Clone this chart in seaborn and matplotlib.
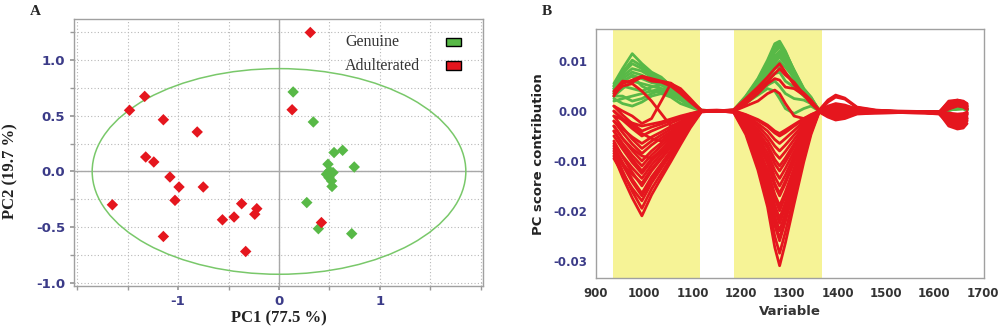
import matplotlib
matplotlib.use("Agg")
import matplotlib.pyplot as plt
from matplotlib.patches import Ellipse, Rectangle
from matplotlib.ticker import MultipleLocator, FixedLocator, FormatStrFormatter
import seaborn as sns
import pandas as pd

# ---------------- Panel A data (PCA scores) ----------------
genuine_pc1 = [0.14, 0.34, 0.545, 0.63, 0.745, 0.485, 0.50, 0.47, 0.535, 0.495, 0.52, 0.525, 0.275, 0.39, 0.72]
genuine_pc2 = [0.715, 0.445, 0.17, 0.19, 0.04, 0.065, 0.005, -0.025, -0.01, -0.055, -0.085, -0.135, -0.28, -0.515, -0.56]
adult_pc1 = [0.31, -1.33, -1.48, -1.145, -0.81, 0.13, -1.32, -1.24, -1.08, -0.99, -0.75, -1.03, -1.65,
             -0.37, -0.22, -0.24, -0.445, -0.56, -1.145, -0.33, 0.42]
adult_pc2 = [1.25, 0.675, 0.55, 0.465, 0.355, 0.555, 0.13, 0.085, -0.05, -0.14, -0.14, -0.26, -0.30,
             -0.29, -0.335, -0.385, -0.41, -0.435, -0.585, -0.72, -0.46]
ellipse_pc1_halfwidth = 1.85
ellipse_pc2_halfheight = 0.925
groups = ["Genuine", "Adulterated"]
x_label_a = "PC1 (77.5 %)"
y_label_a = "PC2 (19.7 %)"

# ---------------- Panel B data (PC score contributions) ----------------
variable = [937, 955, 975, 995, 1015, 1035, 1055, 1075, 1095, 1118, 1150, 1185, 1210, 1235, 1255, 1270, 1280,
            1292, 1310, 1330, 1345, 1362, 1380, 1396, 1415, 1440, 1480, 1530, 1580, 1610, 1630, 1648, 1660, 1668]
highlight_bands = [(936, 1115), (1185, 1367)]

genuine_spectra = [
    [.0055, .0085, .0115, .0095, .0078, .0068, .005, .0035, .002, .0002, 0, .0002, .003, .0065, .0102, .0135, .014,
     .012, .008, .004, .0025, .0002, .0008, .0012, .001, .0005, 0, -.0002, -.0002, -.0003, .0005, .001, .0012, .0008],
    [.005, .0075, .0095, .0085, .007, .0065, .0052, .0038, .002, 0, 0, .0001, .0028, .006, .0095, .0125, .0132,
     .0115, .0082, .0045, .0028, 0, .0009, .0011, .0009, .0004, 0, -.0002, -.0002, -.0003, .0003, .0008, .0009, .0005],
    [.0045, .007, .0085, .008, .0068, .006, .0048, .0035, .0018, 0, 0, 0, .0025, .0055, .009, .0118, .0128,
     .011, .0078, .0042, .0026, .0001, .0008, .001, .0008, .0003, 0, -.0002, -.0002, -.0003, .0002, .0006, .0007, .0004],
    [.004, .0065, .0078, .0072, .0062, .0055, .0045, .0032, .0016, 0, 0, .0001, .0022, .005, .0082, .011, .012,
     .0105, .0075, .004, .0024, 0, .0007, .0009, .0007, .0003, 0, -.0001, -.0002, -.0002, .0004, .0007, .0008, .0004],
    [.0035, .005, .0045, .004, .0048, .0052, .0042, .003, .0015, 0, 0, 0, .002, .0045, .0075, .0098, .0108,
     .0095, .007, .0038, .0022, 0, .0006, .0008, .0006, .0002, 0, -.0001, -.0002, -.0002, .0003, .0006, .0007, .0003],
    [.003, .003, .002, .0025, .0035, .0042, .0036, .0025, .0012, 0, 0, 0, .0018, .004, .0065, .0085, .009,
     .0075, .0062, .0035, .002, 0, .0005, .0007, .0005, .0002, 0, -.0001, -.0002, -.0002, .0002, .0005, .0006, .0003],
    [.0025, .0015, .001, .0018, .003, .0035, .0028, .0015, .0008, 0, 0, 0, .0015, .0035, .0052, .006, .005,
     .0035, .0025, .0022, .0015, 0, .0005, .0006, .0005, .0002, 0, -.0001, -.0002, -.0002, .0002, .0004, .0005, .0002],
    [.0045, .006, .007, .005, .004, .0045, .004, .0028, .0015, 0, 0, 0, .0016, .0032, .0045, .004, .0025,
     .0005, -.0005, .0005, .001, 0, .0004, .0006, .0004, .0002, 0, -.0001, -.0001, -.0002, .0002, .0004, .0004, .0002],
    [.005, .0078, .0102, .009, .0074, .0066, .0051, .0036, .0019, .0001, 0, .0002, .0029, .0062, .0098, .013, .0136,
     .0118, .0081, .0044, .0027, .0001, .0008, .001, .0008, .0004, 0, -.0002, -.0002, -.0003, .0003, .0007, .0008, .0005],
    [.0038, .0058, .0072, .0065, .0057, .0053, .0043, .0031, .0016, 0, 0, 0, .0021, .0048, .0078, .0104, .0114,
     .010, .0072, .0039, .0023, 0, .0007, .0008, .0006, .0003, 0, -.0001, -.0002, -.0002, .0003, .0006, .0007, .0003],
    [.003, .0045, .006, .0055, .005, .0045, .0038, .0027, .0013, 0, 0, 0, .0019, .0043, .007, .0092, .010,
     .0088, .0066, .0036, .0021, 0, .0006, .0007, .0005, .0002, 0, -.0001, -.0002, -.0002, .0002, .0005, .0006, .0003],
    [.002, .0025, .003, .0035, .004, .0038, .0032, .0022, .001, 0, 0, 0, .0017, .0038, .006, .0075, .0078,
     .006, .0048, .003, .0018, 0, .0005, .0006, .0004, .0002, 0, -.0001, -.0001, -.0002, .0002, .0004, .0005, .0002],
]

adulterated_spectra = [
    [-.009, -.0132, -.0174, -.021, -.0168, -.0134, -.0101, -.0067, -.0034, -.0002, .0001, -.0003, -.0047, -.0118,
     -.0192, -.0273, -.031, -.0264, -.0186, -.0102, -.0047, -.0002, -.0012, -.0018, -.0015, -.0006, -.0004, -.0003,
     -.0004, -.0006, -.0025, -.0033, -.003, -.002],
    [-.008, -.012, -.0161, -.0195, -.0156, -.0125, -.0094, -.0062, -.0031, -.0001, 0, -.0002, -.0043, -.0108,
     -.0177, -.0251, -.0285, -.0242, -.0171, -.0094, -.0043, -.0001, -.001, -.0015, -.0012, -.0005, -.0003, -.0002,
     -.0003, -.0005, -.0018, -.0028, -.0024, -.0015],
    [-.0095, -.0125, -.0155, -.018, -.0144, -.0115, -.0086, -.0058, -.0029, .0001, .0002, 0, -.0039, -.0099,
     -.0161, -.0229, -.026, -.0221, -.0156, -.0086, -.0039, .0001, -.0008, -.0012, -.001, -.0004, -.0002, -.0003,
     -.0002, -.0004, .001, .0018, .0015, .001],
    [-.007, -.0103, -.0137, -.0165, -.0132, -.0106, -.0079, -.0053, -.0026, 0, -.0001, .0001, -.0036, -.0091,
     -.0149, -.0211, -.024, -.0204, -.0144, -.0079, -.0036, 0, -.0006, -.001, -.0008, -.0003, -.0004, -.0003,
     -.0004, -.0005, -.0012, -.002, -.0016, -.0008],
    [-.006, -.0092, -.0123, -.015, -.012, -.0096, -.0072, -.0048, -.0024, .0001, 0, -.0001, -.0032, -.0082,
     -.0133, -.0189, -.0215, -.0183, -.0129, -.0071, -.0032, -.0001, -.0005, -.0008, -.0006, -.0002, -.0003, -.0002,
     -.0003, -.0004, .0008, .0015, .0012, .0006],
    [-.0065, -.009, -.0114, -.0135, -.0108, -.0086, -.0065, -.0043, -.0022, 0, .0001, 0, -.0029, -.0072,
     -.0118, -.0167, -.019, -.0162, -.0114, -.0063, -.0029, 0, -.0004, -.0006, -.0005, -.0002, -.0002, -.0003,
     -.0002, -.0003, -.0015, -.0022, -.002, -.0012],
    [-.005, -.0076, -.0103, -.0125, -.01, -.008, -.006, -.004, -.002, .0001, 0, .0001, -.0026, -.0065,
     -.0105, -.015, -.017, -.0145, -.0102, -.0056, -.0026, .0001, -.0003, -.0005, -.0004, -.0001, -.0003, -.0002,
     -.0003, -.0004, .0012, .002, .0016, .001],
    [-.004, -.0065, -.0089, -.011, -.0088, -.007, -.0053, -.0035, -.0018, 0, -.0001, 0, -.0023, -.0057,
     -.0093, -.0132, -.015, -.0128, -.009, -.005, -.0023, 0, -.0002, -.0004, -.0003, -.0001, -.0002, -.0002,
     -.0002, -.0003, -.0008, -.0014, -.001, -.0005],
    [-.003, -.0055, -.0079, -.010, -.008, -.0064, -.0048, -.0032, -.0016, .0001, .0001, 0, -.002, -.0051,
     -.0084, -.0119, -.0135, -.0115, -.0081, -.0045, -.002, .0001, -.0001, -.0003, -.0002, 0, -.0003, -.0003,
     -.0002, -.0004, .0005, .0012, .0009, .0004],
    [-.002, -.0043, -.0066, -.0085, -.0068, -.0054, -.0041, -.0027, -.0014, 0, 0, 0, -.0018, -.0046,
     -.0074, -.0106, -.012, -.0102, -.0072, -.004, -.0018, 0, 0, -.0002, -.0001, 0, -.0002, -.0002,
     -.0003, -.0003, -.002, -.003, -.0026, -.0018],
    [-.001, -.0033, -.0056, -.0075, -.006, -.0048, -.0036, -.0024, -.0012, .0001, 0, .0001, -.0017, -.0042,
     -.0068, -.0097, -.011, -.0094, -.0066, -.0036, -.0017, .0001, .0002, 0, 0, .0001, -.0002, -.0001,
     -.0002, -.0003, .0015, .0022, .0018, .0012],
    [-.002, -.0036, -.0052, -.0065, -.0052, -.0042, -.0031, -.0021, -.001, 0, 0, 0, -.0014, -.0036,
     -.0059, -.0084, -.0095, -.0081, -.0057, -.0031, -.0014, 0, .0004, .0005, .0003, .0001, -.0001, -.0002,
     -.0002, -.0002, -.0006, -.001, -.0008, -.0004],
    [0, -.0018, -.0035, -.005, -.004, -.0032, -.0024, -.0016, -.0008, 0, .0001, 0, -.0012, -.003,
     -.005, -.007, -.008, -.0068, -.0048, -.0026, -.0012, 0, .0006, .0008, .0006, .0002, 0, -.0001,
     -.0001, -.0002, .001, .0016, .0014, .0008],
    [.001, -.0008, -.0025, -.004, -.0032, -.0026, -.0019, -.0013, -.0006, 0, 0, 0, -.001, -.0025,
     -.004, -.0057, -.0065, -.0055, -.0039, -.0021, -.001, 0, .0008, .001, .0008, .0003, .0001, 0,
     -.0001, -.0001, -.0004, -.0006, -.0005, -.0002],
    [-.001, -.0017, -.0024, -.003, -.0026, -.0022, -.0016, -.001, -.0005, 0, 0, 0, -.0008, -.0019,
     -.0031, -.0044, -.005, -.0043, -.003, -.0017, -.0008, 0, .0003, .0004, .0003, .0001, 0, -.0001,
     -.0002, -.0002, .0018, .0021, .0019, .0014],
    [0, -.0015, -.003, -.0045, -.0055, -.006, -.0045, -.003, -.0015, 0, 0, .0001, -.0007, -.0017,
     -.0028, -.004, -.0045, -.0038, -.0027, -.0015, -.0007, 0, -.001, -.0012, -.001, -.0004, -.0002, -.0002,
     -.0003, -.0003, -.0018, -.0026, -.0022, -.0015],
    [-.003, -.0055, -.0075, -.009, -.0095, -.008, -.006, -.004, -.002, 0, 0, 0, -.0034, -.0086,
     -.014, -.0198, -.0225, -.0191, -.0135, -.0074, -.0034, 0, -.0007, -.0011, -.0009, -.0003, -.0003, -.0002,
     -.0003, -.0004, .0004, .001, .0008, .0003],
    [-.0085, -.0106, -.0127, -.0145, -.0116, -.0093, -.007, -.0046, -.0023, 0, 0, 0, -.003, -.0076,
     -.0124, -.0176, -.020, -.017, -.012, -.0066, -.003, 0, -.0009, -.0014, -.0011, -.0004, -.0003, -.0003,
     -.0002, -.0004, -.003, -.0036, -.0034, -.0025],
    [-.004, -.0068, -.0096, -.012, -.0096, -.0077, -.0058, -.0038, -.0019, 0, 0, 0, -.0038, -.0097,
     -.0158, -.0224, -.0255, -.0217, -.0153, -.0084, -.0038, 0, -.0005, -.0008, -.0006, -.0002, -.0002, -.0002,
     -.0003, -.0003, .002, .0022, .002, .0015],
    [-.0075, -.0108, -.0142, -.017, -.0136, -.0109, -.0082, -.0054, -.0027, 0, 0, 0, -.0025, -.0063,
     -.0102, -.0145, -.0165, -.014, -.0099, -.0054, -.0025, 0, -.0004, -.0007, -.0005, -.0002, -.0003, -.0002,
     -.0002, -.0003, -.001, -.0016, -.0013, -.0007],
    [.003, .0055, .0062, .007, .0065, .006, .0056, .004, .0022, .0002, 0, .0003, .0025, .0048, .0068, .0085, .0095,
     .0078, .0052, .0036, .0022, .0002, .0022, .0032, .0026, .0008, .0002, -.0001, -.0002, -.0003, .0012, .002,
     .0018, .001],
    [.004, .006, .0058, .0068, .006, .0058, .005, .0035, .0018, 0, 0, 0, .002, .0042, .006, .0075, .0085,
     .0072, .0058, .0033, .0018, 0, .0018, .0028, .0024, .0007, .0001, -.0001, -.0002, -.0003, -.0008, -.0015,
     -.0012, -.0006],
    [.0035, .005, .0055, .004, .002, -.0005, -.003, -.0025, -.0012, 0, 0, 0, .0015, .0035, .0055, .0065, .0062,
     .0048, .0045, .0032, .0015, 0, .001, .0015, .0012, .0004, 0, -.0001, -.0002, -.0002, .0006, .0012, .001, .0005],
    [.001, 0, -.001, -.0025, -.0015, .002, .0055, .0045, .0025, .0001, 0, 0, .001, .002, .0035, .0042, .0035,
     .0015, -.001, -.0015, -.001, 0, .0005, .0008, .0006, .0002, 0, -.0001, -.0002, -.0002, -.0005, -.001,
     -.0008, -.0003],
]
x_label_b = "Variable"
y_label_b = "PC score contribution"

# ---------------- Styling ----------------
sns.set_theme(style="white")
plt.rcParams["font.family"] = ["DejaVu Sans"]
plt.rcParams["axes.unicode_minus"] = False

green = "#58b947"
red = "#e5161e"
tick_blue = "#3b3b88"
serif = ["Liberation Serif", "DejaVu Serif"]

fig = plt.figure(figsize=(10, 3.36), dpi=100)

# ================= Panel A =================
axA = fig.add_axes([0.074, 0.149, 0.409, 0.794])
scores = pd.DataFrame({
    "PC1": genuine_pc1 + adult_pc1,
    "PC2": genuine_pc2 + adult_pc2,
    "group": [groups[0]] * len(genuine_pc1) + [groups[1]] * len(adult_pc1),
})
axA.set_xlim(-2.03, 2.02)
axA.set_ylim(-1.03, 1.37)
axA.xaxis.set_major_locator(FixedLocator([-1, 0, 1]))
axA.xaxis.set_minor_locator(MultipleLocator(0.5))
axA.yaxis.set_major_locator(MultipleLocator(0.5))
axA.yaxis.set_minor_locator(MultipleLocator(0.25))
axA.grid(True, which="both", linestyle=(0, (1, 2)), color="#b8b8b8", linewidth=0.8)
axA.axhline(0, color="#a8a8a8", lw=1.0, zorder=1)
axA.axvline(0, color="#a8a8a8", lw=1.0, zorder=1)
axA.add_patch(Ellipse((0, 0), 2 * ellipse_pc1_halfwidth, 2 * ellipse_pc2_halfheight,
                      fill=False, edgecolor="#79c86a", lw=1.1, zorder=2))
sns.scatterplot(data=scores, x="PC1", y="PC2", hue="group", hue_order=groups,
                palette={groups[0]: green, groups[1]: red}, marker="D", s=34,
                edgecolor="none", legend=False, ax=axA, zorder=3)
axA.yaxis.set_major_formatter(FormatStrFormatter("%.1f"))
axA.tick_params(axis="both", which="both", length=3, color="#999999", direction="out")
axA.tick_params(axis="both", which="major", labelsize=9.5, labelcolor=tick_blue)
axA.tick_params(bottom=True, left=True, which="both")
for lab in axA.get_xticklabels() + axA.get_yticklabels():
    lab.set_fontweight("bold")
for sp in axA.spines.values():
    sp.set_color("#a0a0a0")
    sp.set_linewidth(1.0)
axA.set_xlabel(x_label_a, fontsize=12, fontweight="bold", family=serif, color="#222222", labelpad=2)
axA.set_ylabel(y_label_a, fontsize=12, fontweight="bold", family=serif, color="#222222")
axA.yaxis.set_label_coords(-0.135, 0.43)

# manual legend: left-aligned labels, swatches to the right
legend_colors = [green, red]
legend_y = [0.915, 0.826]
for label, col, yy in zip(groups, legend_colors, legend_y):
    axA.text(0.663, yy, label, transform=axA.transAxes, family=serif, fontsize=11.5,
             color="#333333", ha="left", va="center", zorder=5)
    axA.add_patch(Rectangle((0.910, yy - 0.016), 0.036, 0.032, transform=axA.transAxes,
                            facecolor=col, edgecolor="black", lw=1.0, zorder=5))
fig.text(0.03, 0.965, "A", fontsize=11, fontweight="bold", family=serif, ha="left", va="center")

# ================= Panel B =================
axB = fig.add_axes([0.596, 0.172, 0.388, 0.741])
for lo, hi in highlight_bands:
    axB.axvspan(lo, hi, color="#f6f396", lw=0, zorder=0)

rows = []
for i, spec in enumerate(genuine_spectra):
    for v, c in zip(variable, spec):
        rows.append(("g%d" % i, groups[0], v, c))
for i, spec in enumerate(adulterated_spectra):
    for v, c in zip(variable, spec):
        rows.append(("a%d" % i, groups[1], v, c))
contrib = pd.DataFrame(rows, columns=["sample", "group", "variable", "contribution"])
sns.lineplot(data=contrib, x="variable", y="contribution", hue="group", hue_order=groups,
             units="sample", estimator=None, palette={groups[0]: green, groups[1]: red},
             lw=2.0, legend=False, ax=axB, zorder=2)
axB.set_xlim(900, 1703)
axB.set_ylim(-0.0335, 0.0164)
axB.xaxis.set_major_locator(MultipleLocator(100))
axB.yaxis.set_major_locator(FixedLocator([0.01, 0.0, -0.01, -0.02, -0.03]))
axB.yaxis.set_major_formatter(FormatStrFormatter("%.2f"))
axB.tick_params(axis="both", length=0, labelsize=8.5, pad=6)
axB.tick_params(axis="y", labelcolor=tick_blue)
axB.tick_params(axis="x", labelcolor="#333333")
for lab in axB.get_xticklabels() + axB.get_yticklabels():
    lab.set_fontweight("bold")
for sp in axB.spines.values():
    sp.set_color("#a0a0a0")
    sp.set_linewidth(1.0)
axB.set_xlabel(x_label_b, fontsize=9.5, fontweight="bold", color="#333333", labelpad=4)
axB.set_ylabel(y_label_b, fontsize=9.5, fontweight="bold", color="#222222", labelpad=6)
fig.text(0.542, 0.965, "B", fontsize=11, fontweight="bold", family=serif, ha="left", va="center")

fig.savefig("out.png", dpi=100)
